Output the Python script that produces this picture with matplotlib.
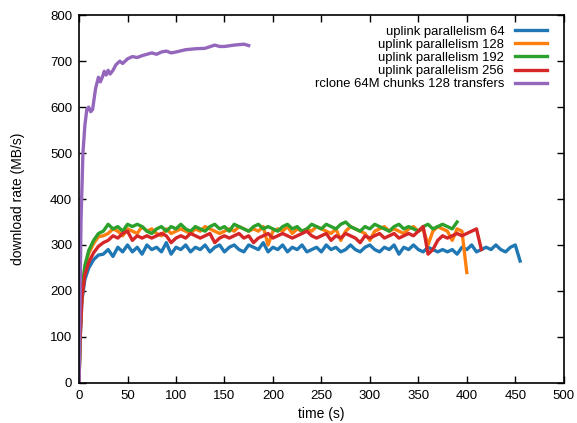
import matplotlib
matplotlib.use("Agg")
import matplotlib.pyplot as plt

plt.rcParams["font.family"] = ["Liberation Sans", "DejaVu Sans"]

# uplink runs: dense samples during ramp-up, then every 5 s
ramp_t = [0, 1, 3, 6, 10, 15]

t_p64 = ramp_t + list(range(20, 460, 5))
p64 = [0, 90, 180, 225, 250, 268, 278,
       280, 290, 275, 295, 285,
       300, 285, 295, 280, 300, 290, 295, 285, 305, 280,
       295, 290, 300, 285, 295, 290, 300, 285, 295, 300,
       285, 295, 300, 290, 285, 300, 295, 290, 305, 285,
       295, 290, 300, 285, 295, 290, 300, 285, 290, 295,
       285, 300, 290, 295, 285, 290, 300, 290, 285, 295,
       300, 290, 285, 295, 290, 300, 280, 295, 290, 300,
       290, 285, 295, 290, 285, 290, 285, 290, 280, 295,
       290, 300, 285, 290, 295, 290, 300, 290, 285, 295,
       300, 265]

t_p128 = ramp_t + list(range(20, 405, 5))
p128 = [0, 100, 200, 250, 282, 303, 318,
        320, 325, 335, 330, 320,
        335, 330, 325, 340, 330, 335, 325, 320, 335, 325,
        330, 335, 330, 325, 335, 330, 340, 335, 330, 325,
        330, 335, 330, 340, 335, 330, 335, 330, 340, 300,
        330, 335, 330, 340, 325, 335, 330, 335, 330, 340,
        335, 330, 325, 335, 310, 330, 340, 335, 330, 325,
        310, 330, 335, 340, 330, 335, 330, 325, 335, 340,
        330, 335, 300, 330, 340, 335, 330, 310, 335, 330,
        240]

t_p192 = ramp_t + list(range(20, 395, 5))
p192 = [0, 100, 200, 255, 288, 310, 325,
        330, 345, 335, 340, 330,
        345, 340, 345, 340, 330, 325, 335, 340, 330, 340,
        335, 345, 335, 330, 340, 335, 330, 340, 345, 335,
        340, 330, 345, 340, 335, 330, 340, 345, 335, 340,
        335, 330, 340, 345, 335, 340, 330, 335, 345, 340,
        335, 345, 340, 335, 345, 350, 340, 335, 330, 340,
        335, 345, 340, 335, 330, 340, 345, 335, 340, 335,
        330, 340, 345, 335, 340, 345, 340, 335, 350]

t_p256 = ramp_t + list(range(20, 420, 5))
p256 = [0, 90, 185, 235, 262, 283, 297,
        305, 310, 320, 315, 325,
        330, 310, 320, 315, 320, 315, 320, 325, 320, 305,
        315, 320, 315, 325, 320, 315, 320, 325, 305, 315,
        320, 315, 320, 325, 315, 320, 305, 315, 320, 325,
        315, 320, 325, 320, 315, 320, 325, 330, 320, 315,
        320, 325, 310, 320, 315, 325, 320, 315, 305, 320,
        315, 320, 325, 315, 320, 325, 315, 320, 325, 320,
        330, 340, 280, 290, 310, 320, 315, 320, 325, 320,
        325, 330, 335, 290]

# rclone comparison run
t_rclone = [0, 2, 4, 6, 8, 10, 12, 14, 17, 20, 22, 24, 26, 28, 30,
            32, 35, 38, 42, 45, 50, 55, 60, 65, 70, 75, 80, 85, 90,
            95, 100, 110, 120, 130, 140, 145, 150, 160, 170, 175]
rclone = [0, 350, 500, 560, 595, 600, 590, 595, 640, 665, 655, 665, 678, 670, 680,
          672, 680, 692, 700, 695, 705, 710, 708, 712, 715, 718, 715, 720, 722,
          718, 720, 725, 727, 728, 735, 732, 732, 735, 737, 734]

labels = ["uplink parallelism 64", "uplink parallelism 128",
          "uplink parallelism 192", "uplink parallelism 256",
          "rclone 64M chunks 128 transfers"]
colors = ["#1f77b4", "#ff7f0e", "#2ca02c", "#d62728", "#9467bd"]

fig = plt.figure(figsize=(5.77, 4.23), dpi=100)
ax = fig.add_axes([0.137, 0.095, 0.84, 0.869])

series = [(t_p64, p64), (t_p128, p128), (t_p192, p192), (t_p256, p256),
          (t_rclone, rclone)]
for (t, v), lab, col in zip(series, labels, colors):
    ax.plot(t, v, color=col, lw=2.4, label=lab)

ax.set_xlim(0, 500)
ax.set_ylim(0, 800)
ax.set_xticks(range(0, 501, 50))
ax.set_yticks(range(0, 801, 100))
ax.tick_params(direction="in", top=True, right=True, length=5, width=1,
               labelsize=9.5, pad=5)
for sp in ax.spines.values():
    sp.set_linewidth(1.2)
ax.set_xlabel("time (s)", fontsize=10, labelpad=4)
ax.set_ylabel("download rate (MB/s)", fontsize=10, labelpad=18)

ax.legend(loc="upper right", frameon=False, markerfirst=False, fontsize=9.4,
          handlelength=2.5, labelspacing=0.08, borderaxespad=0.3,
          bbox_to_anchor=(0.985, 0.997))

fig.savefig("out.png", dpi=100)
